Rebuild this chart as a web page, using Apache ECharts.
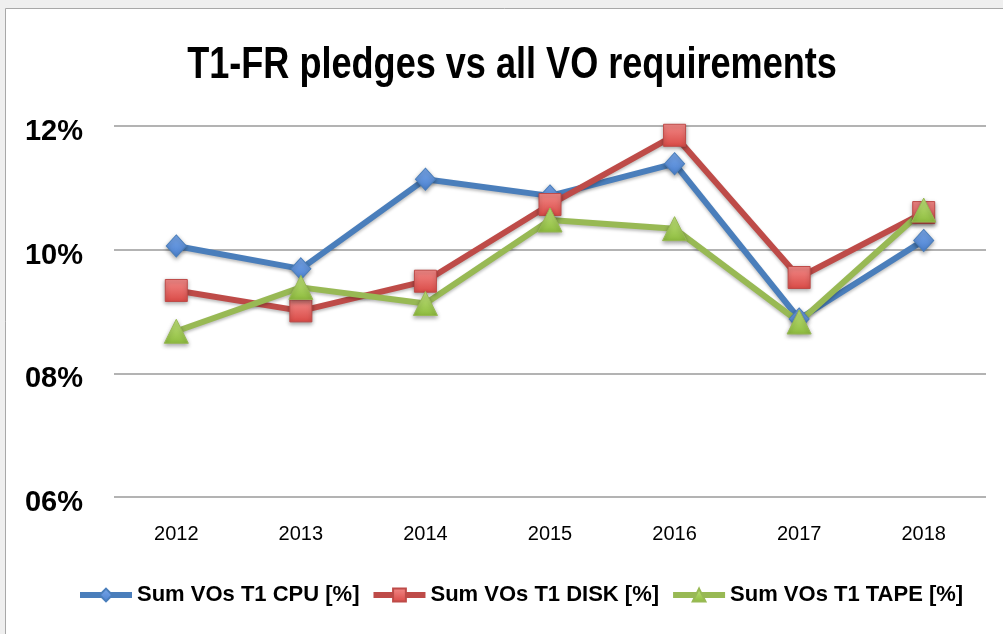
<!DOCTYPE html>
<html>
<head>
<meta charset="utf-8">
<title>T1-FR pledges vs all VO requirements</title>
<script src="https://cdn.jsdelivr.net/npm/echarts@6/dist/echarts.min.js"></script>
<style>
  html, body { margin: 0; padding: 0; background: #efefef; }
  #chart { width: 1003px; height: 634px; }
</style>
</head>
<body>
<div id="chart"></div>
<script>
// data
const years = ['2012', '2013', '2014', '2015', '2016', '2017', '2018'];
const cpu = [10.06, 9.69, 11.14, 10.87, 11.39, 8.88, 10.15];
const disk = [9.34, 9.01, 9.49, 10.73, 11.85, 9.55, 10.60];
const tape = [8.68, 9.39, 9.13, 10.48, 10.34, 8.83, 10.64];
const seriesNames = ['Sum VOs T1 CPU [%]', 'Sum VOs T1 DISK [%]', 'Sum VOs T1 TAPE [%]'];
const chartTitle = 'T1-FR pledges vs all VO requirements';

const font = '"Liberation Sans", Arial, sans-serif';

// gradient fill for the markers
function grad(top, bottom) {
	return {
		type: 'linear', x: 0, y: 0, x2: 0, y2: 1,
		colorStops: [{ offset: 0, color: top }, { offset: 1, color: bottom }]
	};
}

function makeSeries(name, data, symbol, size, lineColor, top, bottom) {
	return {
		name: name,
		type: 'line',
		data: data,
		symbol: symbol,
		symbolSize: size,
		showAllSymbol: true,
		lineStyle: {
			color: lineColor,
			width: 6,
			shadowBlur: 3,
			shadowColor: 'rgba(0,0,0,0.25)',
			shadowOffsetY: 2
		},
		itemStyle: {
			color: grad(top, bottom),
			borderColor: lineColor,
			borderWidth: 1,
			shadowBlur: 4,
			shadowColor: 'rgba(0,0,0,0.35)',
			shadowOffsetY: 2
		},
		emphasis: { disabled: true }
	};
}

const myChart = echarts.init(document.getElementById('chart'));

const option = {
	backgroundColor: '#efefef',
	animation: false,
	graphic: [
		// white panel with grey border
		{
			type: 'rect',
			z: -100,
			silent: true,
			shape: { x: 5.5, y: 8.5, width: 1020, height: 640 },
			style: { fill: '#ffffff', stroke: '#a8a8a8', lineWidth: 1 }
		},
		// title, squeezed like the original condensed face
		{
			type: 'text',
			x: 512,
			y: 66,
			scaleX: 0.82,
			silent: true,
			style: {
				text: chartTitle,
				align: 'center',
				verticalAlign: 'middle',
				font: 'bold 44px ' + font,
				fill: '#000'
			}
		}
	],
	legend: {
		data: seriesNames,
		top: 579,
		left: 72,
		itemWidth: 52,
		itemHeight: 16,
		itemGap: 11,
		lineStyle: { width: 6 },
		textStyle: {
			fontFamily: font,
			fontSize: 22,
			fontWeight: 'bold',
			color: '#000'
		}
	},
	grid: {
		left: 114,
		right: 17,
		top: 126,
		bottom: 137
	},
	xAxis: {
		type: 'category',
		data: years,
		axisLine: { show: false },
		axisTick: { show: false },
		axisLabel: {
			margin: 27,
			fontFamily: font,
			fontSize: 20,
			color: '#000'
		}
	},
	yAxis: {
		type: 'value',
		min: 6,
		max: 12,
		interval: 2,
		axisLine: { show: false },
		axisTick: { show: false },
		splitLine: { lineStyle: { color: '#9a9a9a', width: 1.5 } },
		axisLabel: {
			margin: 31,
			verticalAlign: 'top',
			lineHeight: 12,
			fontFamily: font,
			fontSize: 29,
			fontWeight: 'bold',
			color: '#000',
			formatter: function (v) {
				return (v < 10 ? '0' : '') + v + '%';
			}
		}
	},
	series: [
		makeSeries(seriesNames[0], cpu, 'diamond', [20, 22], '#4a7ebb', '#7aa8ea', '#4a80cf'),
		makeSeries(seriesNames[1], disk, 'rect', 22, '#be4b48', '#f28a88', '#d94a46'),
		makeSeries(seriesNames[2], tape, 'triangle', 24, '#98b954', '#c3e57e', '#8dbb3e')
	]
};

myChart.setOption(option);
</script>
</body>
</html>
